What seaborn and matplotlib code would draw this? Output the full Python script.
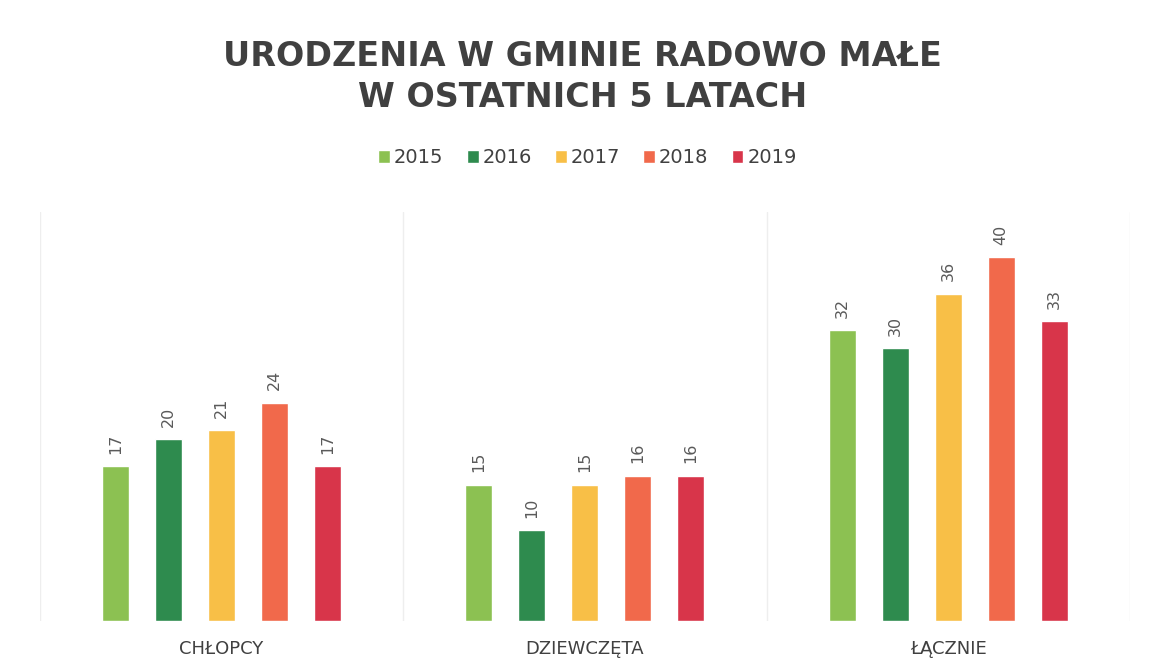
"""Urodzenia w gminie Radowo Małe, 2015-2019 - grouped bar chart"""
import matplotlib
import pandas as pd
import seaborn as sns
from matplotlib import pyplot as plt

# data
categories = ["CHŁOPCY", "DZIEWCZĘTA", "ŁĄCZNIE"]
years = ["2015", "2016", "2017", "2018", "2019"]
boys = [17, 20, 21, 24, 17]
girls = [15, 10, 15, 16, 16]
total = [32, 30, 36, 40, 33]

colors = ["#8cc152", "#2e8b4e", "#f8bf47", "#f1694b", "#d8354a"]
text_color = "#404040"

rows = []
for cat, vals in zip(categories, [boys, girls, total]):
    for year, v in zip(years, vals):
        rows.append({"kategoria": cat, "rok": year, "liczba": v})
df = pd.DataFrame(rows)

sns.set_style("white")
matplotlib.rcParams.update({"font.family": ["DejaVu Sans"]})

fig = plt.figure(figsize=(11.52, 6.72), dpi=100)
ax = fig.add_axes([0.0347, 0.0759, 0.946, 0.6086])

sns.barplot(
    ax=ax, data=df, x="kategoria", y="liczba", hue="rok",
    palette=colors, width=0.73, gap=0.49, saturation=1, legend=True,
)

for cont in ax.containers:
    ax.bar_label(cont, rotation=90, padding=9, fontsize=11.5, color="#5a5a5a")

ax.set_ylim(0, 45)
ax.set_xlim(-0.5, 2.5)
ax.set_yticks([])
ax.set_xlabel("")
ax.set_ylabel("")
ax.tick_params(axis="x", length=0, pad=14, labelsize=13, labelcolor=text_color)
for sp in ax.spines.values():
    sp.set_visible(False)
for x in [-0.5, 0.5, 1.5, 2.5]:
    ax.axvline(x, color="#eeeeee", lw=1, zorder=0)

handles, labels = ax.get_legend_handles_labels()
ax.legend_.remove()
fig.legend(
    handles, labels, loc="center", bbox_to_anchor=(0.51, 0.765), ncol=5,
    frameon=False, fontsize=14, handlelength=0.6, handleheight=0.6,
    handletextpad=0.2, columnspacing=1.2, labelcolor=text_color,
)

fig.text(0.506, 0.885, "URODZENIA W GMINIE RADOWO MAŁE\nW OSTATNICH 5 LATACH",
         ha="center", va="center", fontsize=24, fontweight="bold",
         color=text_color, linespacing=1.3)

fig.savefig("out.png", dpi=100, facecolor="white")
